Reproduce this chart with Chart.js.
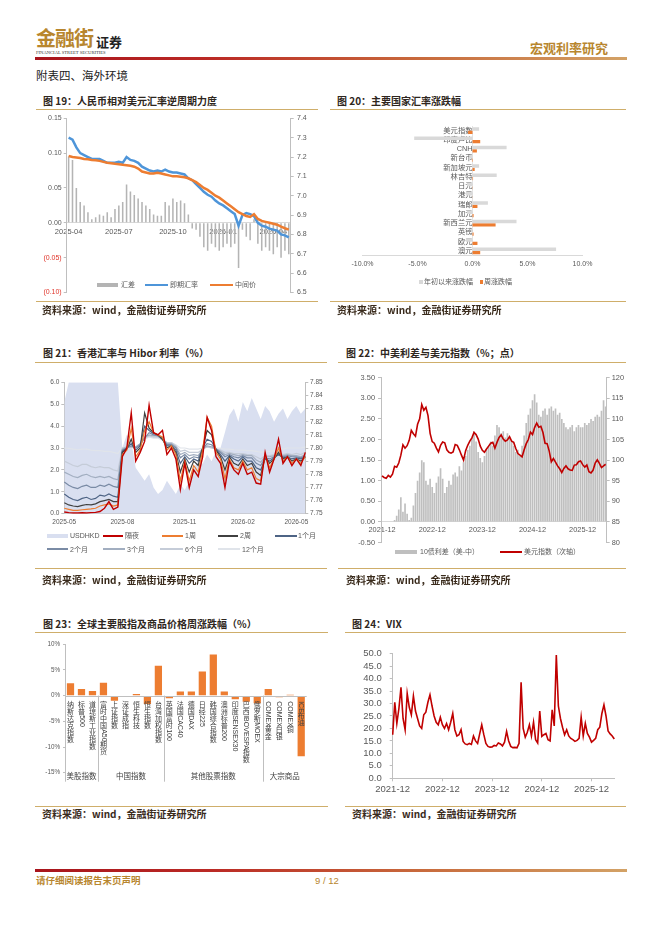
<!DOCTYPE html>
<html lang="zh-CN">
<head>
<meta charset="utf-8">
<title>附表四、海外环境</title>
<script src="https://cdn.jsdelivr.net/npm/chart.js@4.4.1/dist/chart.umd.min.js"></script>
<style>
  html, body { margin: 0; padding: 0; background: #fff; }
  body { width: 662px; height: 936px; position: relative; overflow: hidden;
         font-family: "Noto Sans CJK SC", "Liberation Sans", sans-serif; }
  .abs { position: absolute; white-space: nowrap; line-height: 1; }
  .rule { position: absolute; height: 1px; background: #cfae6a; }
  .grad { position: absolute; height: 3px;
          background: linear-gradient(90deg, #a8141c 0%, #bb2a25 30%, #c86a3c 65%, #d3a266 100%); }
  .title { font-size: 10px; font-weight: bold; color: #2e2620; }
  .src { font-size: 10px; font-weight: bold; color: #3a2b1c; }
  .lg { position: absolute; font-family: "Liberation Sans", "Noto Sans CJK SC", sans-serif;
        font-size: 7px; color: #595959; line-height: 1; white-space: nowrap; }
  .mk { position: absolute; }
  canvas { position: absolute; }
</style>
</head>
<body>

<!-- 页眉 -->
<div class="abs" style="left:36px;top:28px;font-size:20px;font-weight:bold;color:#b8862e;letter-spacing:-1px;">金融街</div>
<div class="abs" style="left:96px;top:35px;font-size:13px;font-weight:bold;color:#222;">证券</div>
<div class="abs" style="left:36px;top:51px;font-size:4.6px;color:#333;font-family:'Liberation Serif',serif;">FINANCIAL STREET SECURITIES</div>
<div class="abs" style="left:530px;top:41px;font-size:13px;font-weight:bold;color:#b8862e;">宏观利率研究</div>
<div class="grad" style="left:35px;top:57px;width:592px;"></div>
<div class="abs" style="left:36px;top:70px;font-size:11.5px;color:#222;">附表四、海外环境</div>

<!-- 第一行 -->
<div class="abs title" style="left:43px;top:96px;">图 19：人民币相对美元汇率逆周期力度</div>
<div class="abs title" style="left:337px;top:96px;">图 20：主要国家汇率涨跌幅</div>
<div class="rule" style="left:36px;top:109px;width:282px;"></div>
<div class="rule" style="left:330px;top:109px;width:296px;"></div>
<canvas id="c19" width="282" height="190" style="left:36px;top:110px;"></canvas>
<canvas id="c20" width="290" height="158" style="left:330px;top:112px;"></canvas>

<div class="mk" style="left:97px;top:283px;width:21px;height:4px;background:#b4b4b4;"></div>
<div class="lg" style="left:121px;top:281.2px;">汇差</div>
<div class="mk" style="left:145px;top:283.5px;width:23px;height:2.5px;background:#4E95D9;"></div>
<div class="lg" style="left:170px;top:281.2px;">即期汇率</div>
<div class="mk" style="left:210px;top:283.5px;width:23px;height:2.5px;background:#ED7D31;"></div>
<div class="lg" style="left:235px;top:281.2px;">中间价</div>

<div class="mk" style="left:419px;top:280px;width:3.5px;height:3.5px;background:#d9d9d9;"></div>
<div class="lg" style="left:424px;top:278.2px;">年初以来涨跌幅</div>
<div class="mk" style="left:479.5px;top:280px;width:3.5px;height:3.5px;background:#ED7D31;"></div>
<div class="lg" style="left:484px;top:278.2px;">周涨跌幅</div>

<div class="rule" style="left:36px;top:301px;width:282px;"></div>
<div class="rule" style="left:330px;top:301px;width:296px;"></div>
<div class="abs src" style="left:42px;top:305px;">资料来源：wind，金融街证券研究所</div>
<div class="abs src" style="left:337px;top:305px;">资料来源：wind，金融街证券研究所</div>

<!-- 第二行 -->
<div class="abs title" style="left:43px;top:348px;">图 21：香港汇率与 Hibor 利率（%）</div>
<div class="abs title" style="left:346px;top:348px;">图 22：中美利差与美元指数（%；点）</div>
<div class="rule" style="left:35px;top:362px;width:292px;"></div>
<div class="rule" style="left:338px;top:362px;width:288px;"></div>
<canvas id="c21" width="300" height="158" style="left:30px;top:372px;"></canvas>
<canvas id="c22" width="300" height="182" style="left:330px;top:368px;"></canvas>

<div class="mk" style="left:47px;top:533.7px;width:21px;height:4px;background:#D9DFF0;"></div>
<div class="lg" style="left:70px;top:532.2px;">USDHKD</div>
<div class="mk" style="left:103px;top:535px;width:20px;height:1.5px;background:#C00000;"></div>
<div class="lg" style="left:125px;top:532.2px;">隔夜</div>
<div class="mk" style="left:162px;top:535px;width:21px;height:1.5px;background:#ED7D31;"></div>
<div class="lg" style="left:185px;top:532.2px;">1周</div>
<div class="mk" style="left:218px;top:535px;width:20px;height:1.5px;background:#404040;"></div>
<div class="lg" style="left:240px;top:532.2px;">2周</div>
<div class="mk" style="left:275px;top:535px;width:22px;height:1.5px;background:#4E6485;"></div>
<div class="lg" style="left:298px;top:532.2px;">1个月</div>
<div class="mk" style="left:47px;top:548.3px;width:21px;height:1.5px;background:#7A8BA5;"></div>
<div class="lg" style="left:70px;top:545.5px;">2个月</div>
<div class="mk" style="left:103px;top:548.3px;width:22px;height:1.5px;background:#A2AEC0;"></div>
<div class="lg" style="left:127px;top:545.5px;">3个月</div>
<div class="mk" style="left:160px;top:548.3px;width:23px;height:1.5px;background:#C5CCD8;"></div>
<div class="lg" style="left:185px;top:545.5px;">6个月</div>
<div class="mk" style="left:218px;top:548.3px;width:22px;height:1.5px;background:#E0E4EA;"></div>
<div class="lg" style="left:242px;top:545.5px;">12个月</div>

<div class="mk" style="left:395px;top:549.7px;width:22px;height:4px;background:#bfbfbf;"></div>
<div class="lg" style="left:420px;top:548.2px;">10债利差（美-中）</div>
<div class="mk" style="left:500px;top:551px;width:22px;height:1.5px;background:#C00000;"></div>
<div class="lg" style="left:524px;top:548.2px;">美元指数（次轴）</div>

<div class="rule" style="left:35px;top:568px;width:292px;"></div>
<div class="rule" style="left:338px;top:568px;width:288px;"></div>
<div class="abs src" style="left:42px;top:575px;">资料来源：wind，金融街证券研究所</div>
<div class="abs src" style="left:346px;top:575px;">资料来源：wind，金融街证券研究所</div>

<!-- 第三行 -->
<div class="abs title" style="left:43px;top:619px;">图 23：全球主要股指及商品价格周涨跌幅（%）</div>
<div class="abs title" style="left:352px;top:619px;">图 24：VIX</div>
<div class="rule" style="left:35px;top:632px;width:293px;"></div>
<div class="rule" style="left:345px;top:632px;width:281px;"></div>
<canvas id="c23" width="300" height="150" style="left:30px;top:636px;"></canvas>
<canvas id="c24" width="290" height="160" style="left:340px;top:640px;"></canvas>
<div class="rule" style="left:35px;top:806px;width:293px;"></div>
<div class="rule" style="left:345px;top:806px;width:281px;"></div>
<div class="abs src" style="left:42px;top:809px;">资料来源：wind，金融街证券研究所</div>
<div class="abs src" style="left:352px;top:809px;">资料来源：wind，金融街证券研究所</div>

<!-- 页脚 -->
<div class="grad" style="left:35px;top:869px;width:592px;"></div>
<div class="abs" style="left:36px;top:876px;font-size:9.5px;font-weight:bold;color:#b8862e;">请仔细阅读报告末页声明</div>
<div class="abs" style="left:315px;top:876px;font-size:9.5px;color:#b8862e;font-family:'Liberation Sans',sans-serif;">9 / 12</div>

<script>
// ---- 图19：人民币相对美元汇率逆周期力度（周度，2025-04 起）----
const c19Start = '2025-04-01';
const c19TickLabels = ['2025-04', '2025-07', '2025-10', '2026-01', '2026-04'];
const c19Spread = [0.095, 0.090, 0.050, 0.030, 0.025, 0.015, 0.005, 0.008, 0.012, 0.010,
  0.015, 0.008, 0.020, 0.025, 0.030, 0.055, 0.045, 0.040, 0.035, 0.030,
  0.025, 0.020, 0.012, 0.010, 0.010, 0.030, 0.025, 0.035, 0.030, 0.032,
  0.028, 0.012, -0.008, -0.010, -0.020, -0.035, -0.040, -0.030, -0.035, -0.040,
  -0.035, -0.030, -0.035, -0.030, -0.065, -0.010, -0.020, -0.025, 0.005, -0.030,
  -0.040, -0.035, -0.040, -0.045, -0.035, -0.050, -0.040, -0.045];
const c19Spot = [7.300, 7.290, 7.250, 7.220, 7.210, 7.200, 7.190, 7.190, 7.190, 7.180,
  7.170, 7.170, 7.170, 7.175, 7.170, 7.200, 7.185, 7.180, 7.170, 7.150,
  7.140, 7.130, 7.125, 7.130, 7.125, 7.135, 7.125, 7.120, 7.120, 7.115,
  7.110, 7.090, 7.080, 7.060, 7.040, 7.020, 7.005, 6.995, 6.975, 6.960,
  6.950, 6.935, 6.920, 6.905, 6.845, 6.900, 6.910, 6.905, 6.895, 6.860,
  6.845, 6.840, 6.830, 6.825, 6.820, 6.800, 6.795, 6.785];
const c19Mid = [7.205, 7.200, 7.198, 7.195, 7.190, 7.188, 7.185, 7.183, 7.180, 7.175,
  7.170, 7.168, 7.165, 7.163, 7.160, 7.158, 7.155, 7.150, 7.140, 7.125,
  7.120, 7.115, 7.115, 7.118, 7.115, 7.110, 7.105, 7.100, 7.100, 7.098,
  7.095, 7.090, 7.080, 7.070, 7.055, 7.040, 7.030, 7.015, 7.000, 6.990,
  6.975, 6.960, 6.945, 6.930, 6.915, 6.905, 6.895, 6.890, 6.905, 6.880,
  6.870, 6.865, 6.860, 6.855, 6.850, 6.840, 6.832, 6.825];

// ---- 图20：主要国家汇率涨跌幅（%）----
const c20Cats = ['美元指数', '印度卢比', 'CNH', '新台币', '新加坡元', '林吉特', '日元',
  '港元', '瑞郎', '加元', '新西兰元', '英镑', '欧元', '澳元'];
const c20Ytd = [0.6, -5.3, 3.1, -0.3, 0.6, 2.2, -0.5, -0.6, 1.4, -0.5, 4.0, -0.15, -0.6, 7.6];
const c20Week = [-0.4, 0.7, 0.4, -0.05, 0.2, 0.05, 0.02, 0.01, 0.45, 0.1, 2.1, 0.1, 0.45, 0.7];

// ---- 图21：香港汇率与 Hibor（周度，2025-05 起）----
const c21Start = '2025-05-02';
const c21TickLabels = ['2025-05', '2025-08', '2025-11', '2026-02', '2026-05'];
const c21Hkd = [7.835, 7.850, 7.850, 7.850, 7.850, 7.850, 7.850, 7.850, 7.850, 7.850, 7.850, 7.850, 7.850,
  7.800, 7.810, 7.805, 7.785, 7.780, 7.775, 7.780, 7.770, 7.765, 7.768, 7.775, 7.770, 7.765,
  7.772, 7.768, 7.775, 7.785, 7.790, 7.788, 7.795, 7.790, 7.798, 7.800, 7.812, 7.825, 7.830,
  7.820, 7.835, 7.828, 7.838, 7.830, 7.822, 7.832, 7.828, 7.820, 7.826, 7.830, 7.822, 7.828, 7.832, 7.826, 7.830];
const c21On = [0.08, 0.05, 0.03, 0.03, 0.04, 0.03, 0.05, 0.06, 0.10, 0.25, 0.55, 0.20, 0.30,
  2.60, 3.00, 4.60, 2.40, 2.80, 3.30, 4.95, 3.70, 3.60, 3.80, 2.70, 3.00, 2.50,
  1.10, 2.30, 1.20, 2.00, 1.70, 2.60, 4.40, 3.80, 2.60, 2.30, 1.20, 2.40, 2.00,
  1.80, 2.30, 1.80, 1.90, 1.40, 1.35, 2.80, 1.90, 2.50, 3.40, 2.30, 2.60, 2.20, 2.50, 2.20, 2.80];
const c21W1 = [0.25, 0.20, 0.15, 0.15, 0.18, 0.20, 0.22, 0.25, 0.35, 0.40, 0.45, 0.35, 0.40,
  2.70, 2.90, 3.90, 2.60, 2.90, 3.80, 4.20, 3.70, 3.60, 3.50, 2.90, 3.10, 2.70,
  1.50, 2.40, 1.50, 2.20, 1.90, 2.90, 4.40, 4.00, 2.80, 2.50, 1.60, 2.50, 2.10,
  2.00, 2.40, 2.00, 2.10, 1.60, 1.50, 2.70, 2.10, 2.50, 3.00, 2.40, 2.60, 2.30, 2.50, 2.30, 2.60];
const c21W2 = [0.50, 0.40, 0.35, 0.32, 0.38, 0.42, 0.40, 0.45, 0.55, 0.60, 0.65, 0.55, 0.55,
  2.80, 2.95, 3.40, 2.80, 3.00, 4.60, 3.90, 3.70, 3.60, 3.40, 3.00, 3.10, 2.80,
  1.90, 2.50, 1.90, 2.40, 2.20, 3.00, 3.80, 3.60, 2.90, 2.60, 2.00, 2.60, 2.30,
  2.20, 2.50, 2.20, 2.30, 1.90, 1.75, 2.60, 2.30, 2.50, 2.80, 2.50, 2.60, 2.40, 2.50, 2.40, 2.60];
const c21M1 = [0.90, 0.75, 0.65, 0.60, 0.70, 0.75, 0.65, 0.70, 0.85, 0.80, 0.90, 0.80, 0.75,
  2.85, 3.00, 3.20, 2.90, 3.10, 4.00, 3.80, 3.65, 3.60, 3.40, 3.10, 3.10, 2.90,
  2.30, 2.60, 2.30, 2.50, 2.40, 3.00, 3.40, 3.30, 2.95, 2.70, 2.40, 2.65, 2.50,
  2.40, 2.60, 2.40, 2.40, 2.10, 2.00, 2.50, 2.40, 2.55, 2.70, 2.55, 2.60, 2.50, 2.55, 2.50, 2.60];
const c21M2 = [1.45, 1.30, 1.20, 1.15, 1.25, 1.30, 1.20, 1.20, 1.30, 1.25, 1.35, 1.25, 1.20,
  2.90, 3.00, 3.10, 3.00, 3.15, 3.45, 3.70, 3.60, 3.55, 3.40, 3.15, 3.15, 3.00,
  2.55, 2.70, 2.50, 2.60, 2.55, 2.95, 3.20, 3.15, 2.95, 2.80, 2.60, 2.70, 2.60,
  2.55, 2.65, 2.55, 2.55, 2.30, 2.20, 2.55, 2.50, 2.60, 2.70, 2.60, 2.65, 2.60, 2.60, 2.55, 2.65];
const c21M3 = [1.90, 1.80, 1.70, 1.65, 1.75, 1.80, 1.70, 1.65, 1.70, 1.65, 1.70, 1.60, 1.55,
  2.95, 3.05, 3.05, 3.05, 3.20, 3.50, 3.60, 3.55, 3.55, 3.40, 3.20, 3.20, 3.05,
  2.70, 2.80, 2.65, 2.70, 2.65, 2.95, 3.10, 3.05, 2.95, 2.85, 2.70, 2.75, 2.70,
  2.65, 2.70, 2.65, 2.65, 2.45, 2.35, 2.60, 2.60, 2.65, 2.75, 2.65, 2.70, 2.65, 2.65, 2.60, 2.70];
const c21M6 = [2.40, 2.30, 2.20, 2.15, 2.25, 2.25, 2.15, 2.10, 2.15, 2.10, 2.10, 2.00, 1.95,
  3.00, 3.05, 3.05, 3.05, 3.20, 3.45, 3.55, 3.50, 3.50, 3.40, 3.25, 3.25, 3.10,
  2.85, 2.90, 2.80, 2.80, 2.80, 2.95, 3.05, 3.00, 2.95, 2.90, 2.80, 2.80, 2.75,
  2.75, 2.75, 2.70, 2.70, 2.60, 2.50, 2.65, 2.65, 2.70, 2.80, 2.70, 2.75, 2.70, 2.75, 2.70, 2.80];
const c21M12 = [3.00, 2.98, 2.95, 2.92, 2.95, 2.95, 2.90, 2.88, 2.88, 2.85, 2.85, 2.80, 2.75,
  3.00, 3.05, 3.05, 3.05, 3.20, 3.40, 3.50, 3.45, 3.45, 3.35, 3.25, 3.25, 3.15,
  3.00, 3.00, 2.95, 2.95, 2.95, 3.00, 3.05, 3.00, 3.00, 2.98, 2.95, 2.95, 2.92,
  2.90, 2.90, 2.88, 2.88, 2.85, 2.80, 2.85, 2.85, 2.88, 2.95, 2.95, 3.00, 3.00, 3.00, 3.00, 3.05];

// ---- 图22：中美利差与美元指数（半月度，2021-12 起）----
const c22StartYear = 2021, c22StartMonth = 12;
const c22TickLabels = ['2021-12', '2022-12', '2023-12', '2024-12', '2025-12'];
const c22Dxy = [96.2, 95.8, 95.6, 96.3, 95.9, 96.6, 98.5, 98.3, 99.3, 101.2,
  103.7, 102.9, 103.5, 104.8, 107.2, 106.4, 105.8, 108.7, 110.0, 113.5,
  112.1, 112.8, 110.8, 106.5, 104.5, 104.1, 102.9, 102.0, 103.6, 104.4,
  104.2, 102.5, 101.9, 101.7, 102.0, 103.8, 103.6, 102.5, 101.2, 100.0,
  102.3, 103.6, 104.6, 105.4, 106.7, 106.2, 105.1, 103.4, 102.4, 101.9,
  102.7, 103.4, 104.1, 104.3, 102.9, 104.3, 105.5, 106.1, 105.1, 104.6,
  104.9, 105.7, 104.6, 104.3, 102.8, 101.6, 101.2, 100.8, 102.5, 104.0,
  105.0, 106.8, 106.2, 107.9, 109.0, 108.0, 108.2, 106.7, 104.1, 104.0,
  102.2, 99.6, 100.4, 99.5, 98.6, 97.9, 97.0, 98.0, 98.6, 97.9,
  97.6, 97.5, 98.8, 98.9, 99.6, 99.8, 98.9, 98.3, 98.8, 97.2,
  96.9, 97.6, 99.3, 100.1, 99.2, 98.2, 98.6, 99.0];
const c22Spread = [0, 0, 0, 0, 0, 0, 0.05, 0.15, 0.3, 0.6,
  0.25, 0.45, 0.2, 0.05, 0.1, 0.4, 0.7, 1.0, 1.2, 1.5,
  1.45, 1.0, 0.9, 1.05, 0.85, 0.7, 0.95, 1.1, 1.3, 1.05,
  0.7, 0.85, 1.0, 0.9, 1.15, 1.2, 1.1, 1.35, 1.25, 1.45,
  1.6, 1.75, 1.85, 2.05, 2.2, 1.95, 1.7, 1.55, 1.45, 1.6,
  1.75, 1.85, 1.95, 1.85, 2.1, 2.35, 2.3, 2.15, 2.2, 2.05,
  2.15, 2.05, 1.95, 1.85, 1.7, 1.75, 1.6, 1.85, 2.1, 2.4,
  2.6, 2.75, 2.95, 3.1, 2.9, 2.6, 2.55, 2.7, 2.75, 2.6,
  2.75, 2.8, 2.7, 2.75, 2.6, 2.65, 2.5, 2.4, 2.3, 2.25,
  2.3, 2.35, 2.2, 2.3, 2.35, 2.3, 2.3, 2.4, 2.35, 2.4,
  2.5, 2.45, 2.55, 2.6, 2.55, 2.7, 2.95, 2.8];

// ---- 图23：全球主要股指及商品价格周涨跌幅（%）----
const c23Cats = ['纳斯达克指数', '标普500', '道琼斯工业指数', '富时中国A50期货', '上证指数', '深证成指',
  '恒生科技', '恒生指数', '台湾加权指数', '英国富时100', '法国CAC40', '德国DAX', '日经225',
  '韩国综合指数', '澳洲标普200', '印度SENSEX30', '巴西IBOVESPA指数', '俄罗斯MOEX',
  'COMEX黄金', 'COMEX白银', 'COMEX铜', 'ICE布油'];
const c23Values = [2.4, 1.3, 0.9, 2.5, -1.0, -0.05, 0.3, -1.6, 5.8, -0.5, 0.8, 0.8, 4.7,
  8.0, 0.8, -0.7, -1.2, -1.5, 1.3, -0.3, 0.2, -11.8];
const c23Groups = ['美股指数', '中国指数', '其他股票指数', '大宗商品'];
const c23GroupSizes = [3, 6, 9, 4];

// ---- 图24：VIX（半月度，2021-12 起）----
const c24StartYear = 2021, c24StartMonth = 12;
const c24TickLabels = ['2021-12', '2022-12', '2023-12', '2024-12', '2025-12'];
const c24Vix = [17.5, 30.5, 22.0, 28.0, 36.5, 24.0, 19.5, 34.0, 28.5, 25.5,
  33.0, 27.0, 24.0, 21.0, 20.0, 25.5, 26.5, 30.5, 33.5, 29.0,
  25.0, 22.5, 21.5, 24.5, 21.5, 20.0, 22.0, 19.5, 22.5, 26.0,
  19.5, 17.0, 17.5, 19.5, 14.8, 13.8, 13.5, 14.0, 13.6, 17.0,
  15.0, 14.0, 17.8, 21.5, 17.5, 14.0, 12.8, 12.5, 12.6, 13.2,
  13.0, 14.2, 13.8, 13.0, 14.5, 18.8, 15.0, 12.8, 12.3, 12.4,
  12.2, 14.0, 38.5, 20.0, 16.5, 18.5, 21.5, 17.0, 22.5, 15.5,
  14.2, 27.0, 16.8, 17.5, 18.0, 15.5, 15.0, 27.5, 21.0, 49.5,
  29.0, 24.0, 20.5, 17.5, 19.5, 17.0, 16.0, 15.5, 14.8, 15.2,
  16.0, 24.5, 17.0, 22.0, 18.0, 16.5, 14.5, 15.2, 16.0, 19.5,
  20.5, 26.0, 29.5, 25.0, 19.0, 17.8, 17.0, 15.8];

// ---- 通用设置 ----
Chart.defaults.font.family = '"Liberation Sans", "Noto Sans CJK SC", sans-serif';
Chart.defaults.color = '#595959';
Chart.defaults.animation = false;
Chart.defaults.plugins.legend.display = false;
Chart.defaults.plugins.tooltip.enabled = false;
Chart.defaults.elements.point.radius = 0;
Chart.defaults.elements.line.tension = 0;

const AXIS = '#bfbfbf';
const axisGrid = { drawOnChartArea: false, drawTicks: true, tickLength: 3, color: AXIS };

function fixWidth(w) { return s => { s.width = w; }; }
function fixHeight(h) { return s => { s.height = h; }; }
function fmt(v, d) { if (Math.abs(v) < 1e-9) v = 0; return v.toFixed(d); }

// 周度标签：每个点对应的年月
function weekLabels(start, n) {
  const d0 = new Date(start + 'T00:00:00Z');
  const out = [];
  for (let i = 0; i < n; i++) {
    const d = new Date(d0.getTime() + i * 7 * 86400000);
    out.push(d.getUTCFullYear() + '-' + String(d.getUTCMonth() + 1).padStart(2, '0'));
  }
  return out;
}
// 半月度标签：每月两个点
function halfMonthLabels(year, month, n) {
  const out = [];
  for (let i = 0; i < n; i++) {
    const m = month - 1 + Math.floor(i / 2);
    out.push((year + Math.floor(m / 12)) + '-' + String(m % 12 + 1).padStart(2, '0'));
  }
  return out;
}
// 只在指定月份的第一个点显示刻度
function monthTick(labels, wanted) {
  return function (value, index) {
    const lab = labels[index];
    if (wanted.indexOf(lab) >= 0 && (index === 0 || labels[index - 1] !== lab)) return lab;
    return null;
  };
}

const c19Labels = weekLabels(c19Start, c19Spot.length);
const c21Labels = weekLabels(c21Start, c21On.length);
const c22Labels = halfMonthLabels(c22StartYear, c22StartMonth, c22Dxy.length);
const c24Labels = halfMonthLabels(c24StartYear, c24StartMonth, c24Vix.length);

// ---- 图19 ----
new Chart(document.getElementById('c19'), {
  type: 'bar',
  data: {
    labels: c19Labels,
    datasets: [
      { type: 'line', label: '中间价', data: c19Mid, yAxisID: 'y1', borderColor: '#ED7D31', borderWidth: 2.5, order: 0 },
      { type: 'line', label: '即期汇率', data: c19Spot, yAxisID: 'y1', borderColor: '#4E95D9', borderWidth: 2.5, order: 1 },
      { label: '汇差', data: c19Spread, yAxisID: 'y', backgroundColor: '#b4b4b4', barPercentage: 0.4, categoryPercentage: 1, order: 2 }
    ]
  },
  options: {
    responsive: false, devicePixelRatio: 1,
    layout: { padding: { top: 8.3, bottom: 7.3, left: 0, right: 0 } },
    scales: {
      x: {
        position: { y: 0 }, afterFit: fixHeight(0),
        grid: { display: false, drawTicks: false }, border: { color: '#d9d9d9' },
        ticks: { autoSkip: false, maxRotation: 0, padding: 4.5, font: { size: 7.5 },
                 callback: monthTick(c19Labels, c19TickLabels) }
      },
      y: {
        position: 'left', min: -0.10, max: 0.15, afterFit: fixWidth(30.7),
        grid: axisGrid, border: { color: AXIS },
        ticks: {
          autoSkip: false, stepSize: 0.05, padding: 2, font: { size: 7 },
          callback: v => (v < -1e-9 ? '(' + fmt(-v, 2) + ')' : fmt(v, 2)),
          color: ctx => (ctx.tick && ctx.tick.value < -1e-9 ? '#E0352B' : '#595959')
        }
      },
      y1: {
        position: 'right', min: 6.5, max: 7.4, afterFit: fixWidth(27.3),
        grid: axisGrid, border: { color: AXIS },
        ticks: { autoSkip: false, stepSize: 0.1, padding: 3.3, font: { size: 7 }, callback: v => fmt(v, 1) }
      }
    }
  }
});

// ---- 图20 ----
new Chart(document.getElementById('c20'), {
  type: 'bar',
  data: {
    labels: c20Cats,
    datasets: [
      { label: '年初以来涨跌幅', data: c20Ytd, backgroundColor: '#d9d9d9', categoryPercentage: 0.75, barPercentage: 1 },
      { label: '周涨跌幅', data: c20Week, backgroundColor: '#ED7D31', categoryPercentage: 0.75, barPercentage: 1 }
    ]
  },
  options: {
    indexAxis: 'y', responsive: false, devicePixelRatio: 1,
    layout: { padding: { left: 32.5, right: 37.5, top: 14, bottom: 0 } },
    scales: {
      x: {
        min: -10, max: 10, afterFit: fixHeight(14.5),
        grid: { display: false, drawTicks: false }, border: { color: '#d9d9d9' },
        ticks: { stepSize: 5, padding: 4.3, font: { size: 7 }, callback: v => fmt(v, 1) + '%' }
      },
      y: {
        position: { x: 0 }, afterFit: fixWidth(0),
        grid: { display: false, drawTicks: false }, border: { color: '#e3e3e3' },
        ticks: { autoSkip: false, padding: 5, font: { size: 7.3 } }
      }
    }
  }
});

// ---- 图21 ----
function hiborLine(label, data, color, order, width) {
  return { label: label, data: data, yAxisID: 'y', borderColor: color, borderWidth: width || 1.2, order: order };
}
new Chart(document.getElementById('c21'), {
  type: 'line',
  data: {
    labels: c21Labels,
    datasets: [
      hiborLine('隔夜', c21On, '#C00000', 1, 1.4),
      hiborLine('1周', c21W1, '#ED7D31', 2),
      hiborLine('2周', c21W2, '#404040', 3),
      hiborLine('1个月', c21M1, '#4E6485', 4),
      hiborLine('2个月', c21M2, '#7A8BA5', 5),
      hiborLine('3个月', c21M3, '#A2AEC0', 6),
      hiborLine('6个月', c21M6, '#C5CCD8', 7),
      hiborLine('12个月', c21M12, '#E0E4EA', 8),
      { label: 'USDHKD', data: c21Hkd, yAxisID: 'y1', fill: 'start', backgroundColor: '#D9DFF0',
        borderWidth: 0, borderColor: 'rgba(0,0,0,0)', order: 9 }
    ]
  },
  options: {
    responsive: false, devicePixelRatio: 1,
    layout: { padding: { top: 10.3, bottom: 0, left: 0, right: 0 } },
    scales: {
      x: {
        afterFit: fixHeight(16.3), offset: false,
        grid: { display: false, drawTicks: false }, border: { color: AXIS },
        ticks: { autoSkip: false, maxRotation: 0, padding: 4.7, font: { size: 6.5 },
                 callback: monthTick(c21Labels, c21TickLabels) }
      },
      y: {
        position: 'left', min: 0, max: 6, afterFit: fixWidth(34.3),
        grid: axisGrid, border: { color: AXIS },
        ticks: { autoSkip: false, stepSize: 1, padding: 2, font: { size: 6.5 }, callback: v => fmt(v, 1) }
      },
      y1: {
        position: 'right', min: 7.75, max: 7.85, afterFit: fixWidth(24.7),
        grid: axisGrid, border: { color: AXIS },
        ticks: { autoSkip: false, stepSize: 0.01, padding: 1.7, font: { size: 6.5 }, callback: v => fmt(v, 2) }
      }
    }
  }
});

// ---- 图22 ----
new Chart(document.getElementById('c22'), {
  type: 'bar',
  data: {
    labels: c22Labels,
    datasets: [
      { type: 'line', label: '美元指数（次轴）', data: c22Dxy, yAxisID: 'y1', borderColor: '#C00000', borderWidth: 1.6, order: 0 },
      { label: '10债利差（美-中）', data: c22Spread, yAxisID: 'y', backgroundColor: '#bfbfbf',
        barPercentage: 0.8, categoryPercentage: 1, order: 1 }
    ]
  },
  options: {
    responsive: false, devicePixelRatio: 1,
    layout: { padding: { top: 9.7, bottom: 6, left: 0, right: 0 } },
    scales: {
      x: {
        position: { y: 0 }, afterFit: fixHeight(0),
        grid: { display: false, drawTicks: false }, border: { color: '#d9d9d9' },
        ticks: { autoSkip: false, maxRotation: 0, padding: 3.6, font: { size: 7.4 },
                 callback: monthTick(c22Labels, c22TickLabels) }
      },
      y: {
        position: 'left', min: -0.5, max: 3.5, afterFit: fixWidth(51),
        grid: axisGrid, border: { color: AXIS },
        ticks: { autoSkip: false, stepSize: 0.5, padding: 3, font: { size: 7.4 }, callback: v => fmt(v, 2) }
      },
      y1: {
        position: 'right', min: 80, max: 120, afterFit: fixWidth(23.3),
        grid: axisGrid, border: { color: AXIS },
        ticks: { autoSkip: false, stepSize: 5, padding: 2, font: { size: 7.4 }, callback: v => fmt(v, 0) }
      }
    }
  }
});

// ---- 图23 ----
// 竖排标签：汉字直立，英文数字顺时针旋转
function drawVertical(ctx, text, cx, top, size) {
  let yy = top;
  const runs = text.match(/[\x00-\x7f]+|[^\x00-\x7f]/g) || [];
  runs.forEach(r => {
    if (/^[\x00-\x7f]+$/.test(r)) {
      const w = ctx.measureText(r).width;
      ctx.save();
      ctx.translate(cx, yy);
      ctx.rotate(Math.PI / 2);
      ctx.textAlign = 'left';
      ctx.textBaseline = 'middle';
      ctx.fillText(r, 0, 0);
      ctx.restore();
      yy += w;
    } else {
      ctx.textAlign = 'center';
      ctx.textBaseline = 'top';
      ctx.fillText(r, cx, yy);
      yy += size;
    }
  });
}
const c23Plugin = {
  id: 'c23Labels',
  afterDraw(chart) {
    const { ctx, chartArea, scales } = chart;
    const x = scales.x, y = scales.y;
    const y0 = y.getPixelForValue(0);
    const bottom = chartArea.bottom + 9;
    ctx.save();
    ctx.strokeStyle = AXIS;
    ctx.lineWidth = 1;
    ctx.beginPath();
    ctx.moveTo(chartArea.left, Math.round(y0) + 0.5);
    ctx.lineTo(chartArea.right, Math.round(y0) + 0.5);
    ctx.moveTo(Math.round(chartArea.left) + 0.5, chartArea.bottom);
    ctx.lineTo(Math.round(chartArea.left) + 0.5, bottom);
    let start = 0;
    c23GroupSizes.forEach((n, g) => {
      const end = start + n;
      const xr = Math.round(x.getPixelForValue(end - 0.5)) + 0.5;
      if (g < c23GroupSizes.length - 1) {
        ctx.moveTo(xr, y0);
        ctx.lineTo(xr, bottom);
      }
      start = end;
    });
    ctx.stroke();

    ctx.fillStyle = '#404040';
    ctx.font = '7.5px "Liberation Sans", "Noto Sans CJK SC", sans-serif';
    ctx.textAlign = 'center';
    ctx.textBaseline = 'middle';
    start = 0;
    c23GroupSizes.forEach((n, g) => {
      const end = start + n;
      const xl = x.getPixelForValue(start - 0.5), xr = x.getPixelForValue(end - 0.5);
      ctx.fillText(c23Groups[g], (xl + xr) / 2, chartArea.bottom + 4.6);
      start = end;
    });

    ctx.fillStyle = '#404040';
    ctx.font = '7px "Liberation Sans", "Noto Sans CJK SC", sans-serif';
    c23Cats.forEach((lab, i) => {
      drawVertical(ctx, lab, x.getPixelForValue(i), y0 + 5.5, 7);
    });
    ctx.restore();
  }
};
new Chart(document.getElementById('c23'), {
  type: 'bar',
  data: {
    labels: c23Cats,
    datasets: [{ label: '周涨跌幅', data: c23Values, backgroundColor: '#ED7D31', barPercentage: 0.66, categoryPercentage: 1 }]
  },
  options: {
    responsive: false, devicePixelRatio: 1,
    layout: { padding: { top: 8.3, right: 23.3, bottom: 13.3, left: 0 } },
    scales: {
      x: {
        afterFit: fixHeight(0),
        ticks: { display: false }, grid: { display: false, drawTicks: false }, border: { display: false }
      },
      y: {
        min: -15, max: 10, afterFit: fixWidth(35),
        grid: { drawOnChartArea: false, drawTicks: true, tickLength: 2, color: AXIS }, border: { color: AXIS },
        ticks: { autoSkip: false, stepSize: 5, padding: 3, font: { size: 6.3 }, callback: v => fmt(v, 0) + '%' }
      }
    }
  },
  plugins: [c23Plugin]
});

// ---- 图24 ----
new Chart(document.getElementById('c24'), {
  type: 'line',
  data: {
    labels: c24Labels,
    datasets: [{ label: 'VIX', data: c24Vix, borderColor: '#C00000', borderWidth: 1.6 }]
  },
  options: {
    responsive: false, devicePixelRatio: 1,
    layout: { padding: { top: 8.3, right: 15.7, bottom: 0, left: 0 } },
    scales: {
      x: {
        afterFit: fixHeight(21.7), offset: false,
        grid: { display: true, drawOnChartArea: false, drawTicks: true, tickLength: 3, color: AXIS },
        border: { color: AXIS },
        ticks: { autoSkip: false, maxRotation: 0, padding: 2.3, font: { size: 9.5 },
                 callback: monthTick(c24Labels, c24TickLabels) }
      },
      y: {
        min: 0, max: 50, afterFit: fixWidth(52.7),
        grid: axisGrid, border: { color: AXIS },
        ticks: { autoSkip: false, stepSize: 5, padding: 8, font: { size: 9.5 }, callback: v => fmt(v, 1) }
      }
    }
  }
});
</script>
</body>
</html>
